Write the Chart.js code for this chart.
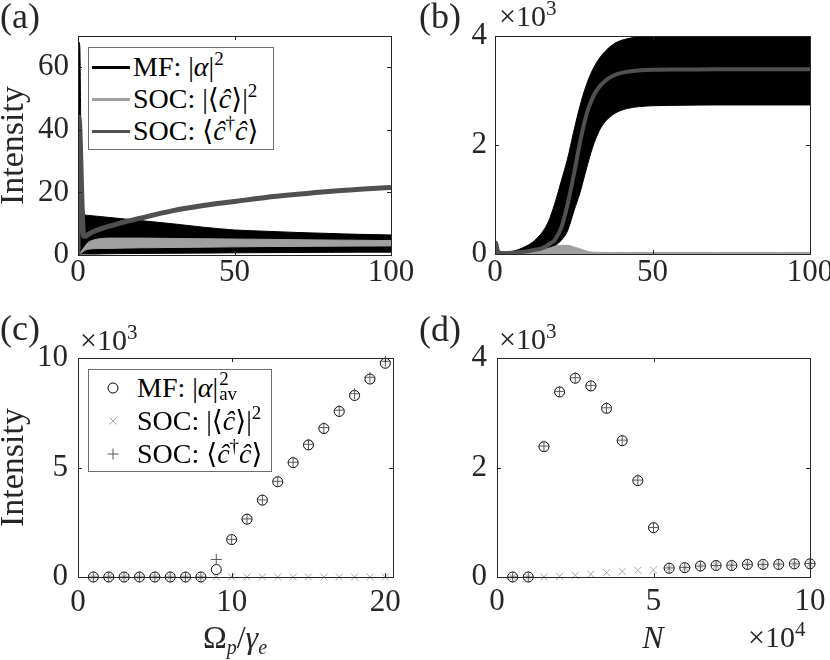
<!DOCTYPE html>
<html>
<head>
<meta charset="utf-8">
<script src="https://cdn.jsdelivr.net/npm/chart.js@4.4.1/dist/chart.umd.min.js"></script>
<style>
  html, body { margin: 0; padding: 0; background: #fff; }
  #fig { position: relative; width: 830px; height: 660px; overflow: hidden;
         font-family: 'Liberation Serif', 'DejaVu Serif', serif; color: #262626; }
  canvas { position: absolute; }
  .txt { position: absolute; line-height: 1; white-space: nowrap; }
  .sp { font-size: 21px; position: relative; top: -11px; }
  .sb { font-size: 20px; position: relative; top: 6px; }
  .leg { position: absolute; background: #fff; border: 1px solid #6e6e6e; box-sizing: border-box; }
  .row { position: absolute; left: 0; height: 32px; line-height: 32px; font-size: 28px; white-space: nowrap; color: #000; }
  .sw { position: absolute; height: 3px; width: 38px; left: 3px; top: 15px; }
  .mk { position: absolute; left: 17px; top: 9px; }
  .row .t { position: absolute; top: 0; }
  .row .sp { font-size: 19px; top: -11px; }
  .ss { display: inline-block; position: relative; width: 24px; height: 10px; }
  .ss .a { position: absolute; left: 1px; top: -18px; font-size: 19px; line-height: 1; }
  .ss .b { position: absolute; left: 1px; top: -3px; font-size: 19px; line-height: 1; }
</style>
</head>
<body>
<div id="fig">
  <canvas id="pa" width="415" height="330" style="left:0;top:0"></canvas>
  <canvas id="pb" width="415" height="330" style="left:415px;top:0"></canvas>
  <canvas id="pc" width="415" height="330" style="left:0;top:330px"></canvas>
  <canvas id="pd" width="415" height="330" style="left:415px;top:330px"></canvas>

  <div class="txt" style="left:0;top:-2px;font-size:36px">(a)</div>
  <div class="txt" style="left:419px;top:-2px;font-size:36px">(b)</div>
  <div class="txt" style="left:0;top:310px;font-size:36px">(c)</div>
  <div class="txt" style="left:419px;top:311px;font-size:36px">(d)</div>

  <div class="txt" style="left:499px;top:1px;font-size:30px">×10<span class="sp">3</span></div>
  <div class="txt" style="left:80px;top:325px;font-size:30px">×10<span class="sp">3</span></div>
  <div class="txt" style="left:499px;top:324px;font-size:30px">×10<span class="sp">3</span></div>
  <div class="txt" style="left:748px;top:622px;font-size:30px">×10<span class="sp">4</span></div>

  <div class="txt" style="left:235px;top:621px;font-size:32px;transform:translateX(-50%)">Ω<span class="sb"><i>p</i></span>/<i>γ</i><span class="sb"><i>e</i></span></div>
  <div class="txt" style="left:653px;top:621px;font-size:32px;transform:translateX(-50%)"><i>N</i></div>

  <div class="leg" style="left:88px;top:47px;width:186px;height:103px">
    <div class="row" style="top:3px"><span class="sw" style="background:#000"></span><span class="t" style="left:44px">MF: |<i>α</i>|<span class="sp">2</span></span></div>
    <div class="row" style="top:35px"><span class="sw" style="background:#a0a0a0"></span><span class="t" style="left:44px">SOC: |⟨<i>ĉ</i>⟩|<span class="sp">2</span></span></div>
    <div class="row" style="top:67px"><span class="sw" style="background:#505050"></span><span class="t" style="left:44px">SOC: ⟨<i>ĉ</i><span class="sp">†</span><i>ĉ</i>⟩</span></div>
  </div>

  <div class="leg" style="left:88px;top:369px;width:184px;height:103px">
    <div class="row" style="top:2px"><svg class="mk" width="14" height="14"><circle cx="7" cy="7" r="5" fill="none" stroke="#000" stroke-width="1"/></svg><span class="t" style="left:48px">MF: |<i>α</i>|<span class="ss"><span class="a">2</span><span class="b">av</span></span></span></div>
    <div class="row" style="top:35px"><svg class="mk" width="14" height="14"><path d="M3.5 3.5L10.5 10.5M10.5 3.5L3.5 10.5" stroke="#a6a6a6" stroke-width="1"/></svg><span class="t" style="left:48px">SOC: |⟨<i>ĉ</i>⟩|<span class="sp">2</span></span></div>
    <div class="row" style="top:68px"><svg class="mk" width="14" height="14"><path d="M7 1.5V12.5M1.5 7H12.5" stroke="#595959" stroke-width="1"/></svg><span class="t" style="left:48px">SOC: ⟨<i>ĉ</i><span class="sp">†</span><i>ĉ</i>⟩</span></div>
  </div>
</div>

<script>
// (a) time traces, small drive
const tA      = [0, 0.1, 0.3, 0.6, 0.9, 1.3, 1.8, 2.4, 3, 5, 7, 10, 15, 20, 30, 40, 50, 60, 70, 80, 90, 100]
const mfUpA   = [0, 60, 68, 66, 40, 22, 14, 12.8, 12.7, 12.5, 12.3, 12.0, 11.5, 11.0, 10.0, 8.9, 8.0, 7.6, 7.2, 6.9, 6.6, 6.4]
const mfLoA   = [0, 0, 0.3, 0.3, 0.3, 0.3, 0.3, 0.3, 0.3, 0.3, 0.35, 0.4, 0.45, 0.5, 0.55, 0.6, 0.7, 0.75, 0.8, 0.85, 0.9, 0.9]
const cohUpA  = [0, 0, 0.3, 0.6, 1, 1.5, 2.2, 3, 3.8, 4.8, 5.2, 5.4, 5.4, 5.4, 5.3, 5.2, 5.1, 5.0, 4.9, 4.8, 4.7, 4.6]
const cohLoA  = [0, 0, 0.2, 0.3, 0.5, 0.8, 1.2, 1.6, 1.8, 2.0, 2.1, 2.1, 2.2, 2.3, 2.4, 2.5, 2.6, 2.7, 2.75, 2.8, 2.85, 2.9]
const numA    = [0, 30, 44, 40, 30, 16, 6, 6.0, 6.4, 7.5, 8.3, 9.2, 10.6, 11.8, 14.1, 15.8, 17.1, 18.4, 19.4, 20.3, 21.0, 21.6]

// (b) time traces, strong drive
const tB      = [0, 0.3, 1, 3, 6, 9, 12, 15, 17, 19, 21, 23, 25, 27, 29, 31, 33, 35, 38, 42, 46, 50, 60, 70, 80, 90, 100]
const mfUpB   = [0, 230, 60, 35, 55, 120, 220, 400, 600, 930, 1330, 1740, 2250, 2720, 3100, 3380, 3580, 3720, 3865, 3950, 3985, 3995, 3995, 3995, 3995, 3995, 3995]
const mfLoB   = [0, 0, 5, 5, 8, 10, 25, 50, 73, 150, 250, 420, 780, 1130, 1560, 1960, 2250, 2430, 2580, 2670, 2705, 2720, 2730, 2735, 2735, 2735, 2735]
const cohB    = [0, 60, 10, 5, 10, 20, 40, 75, 105, 140, 160, 160, 130, 95, 55, 35, 30, 28, 28, 28, 28, 28, 28, 28, 28, 28, 28]
const numB    = [0, 210, 40, 15, 25, 40, 70, 110, 170, 260, 480, 900, 1450, 2050, 2550, 2870, 3060, 3180, 3285, 3345, 3370, 3380, 3385, 3390, 3390, 3390, 3390]

// (c) steady state vs drive
const omegaC  = [1, 2, 3, 4, 5, 6, 7, 8, 9, 10, 11, 12, 13, 14, 15, 16, 17, 18, 19, 20]
const mfC     = [0, 0, 0, 0, 0, 0, 0, 0, 340, 1710, 2640, 3510, 4350, 5220, 6030, 6780, 7560, 8290, 9040, 9760]
const cohC    = [0, 0, 0, 0, 0, 0, 0, 0, 0, 0, 0, 0, 0, 0, 0, 0, 0, 0, 0, 0]
const numC    = [0, 0, 0, 0, 0, 0, 0, 0, 800, 1720, 2650, 3520, 4370, 5240, 6060, 6820, 7620, 8370, 9120, 9850]

// (d) steady state vs N
const nD      = [5000, 10000, 15000, 20000, 25000, 30000, 35000, 40000, 45000, 50000, 55000, 60000, 65000, 70000, 75000, 80000, 85000, 90000, 95000, 100000]
const mfD     = [0, 0, 2380, 3380, 3630, 3490, 3080, 2490, 1760, 900, 160, 170, 200, 210, 210, 230, 230, 230, 240, 240]
const cohD    = [0, 0, 0, 12, 30, 50, 80, 100, 120, 130, 160, 170, 200, 210, 210, 230, 230, 230, 240, 240]
const numD    = [0, 0, 2390, 3390, 3640, 3500, 3090, 2500, 1770, 905, 165, 175, 200, 210, 215, 230, 230, 235, 240, 245]

const ticksTime = [0, 50, 100]
const ticksA    = [0, 20, 40, 60]
const ticksB    = [0, 2000, 4000]
const ticksCx   = [0, 10, 20]
const ticksCy   = [0, 5000, 10000]
const ticksDx   = [0, 50000, 100000]
const ticksDy   = [0, 2000, 4000]

const FONT = "'Liberation Serif', 'DejaVu Serif', serif"
const INK = '#262626'
const BLACK = '#000000', LIGHT = '#a0a0a0', DARK = '#505050'
const TICK = 4

const frame = {
  id: 'frame',
  afterDatasetsDraw(chart) {
    const { ctx, chartArea: a, scales: { x, y } } = chart
    ctx.save()
    ctx.strokeStyle = INK
    ctx.lineWidth = 1
    ctx.beginPath()
    x.ticks.forEach(t => {
      const p = Math.round(x.getPixelForValue(t.value)) + 0.5
      ctx.moveTo(p, a.bottom); ctx.lineTo(p, a.bottom - TICK)
      ctx.moveTo(p, a.top);    ctx.lineTo(p, a.top + TICK)
    })
    y.ticks.forEach(t => {
      const p = Math.round(y.getPixelForValue(t.value)) + 0.5
      ctx.moveTo(a.left, p);  ctx.lineTo(a.left + TICK, p)
      ctx.moveTo(a.right, p); ctx.lineTo(a.right - TICK, p)
    })
    ctx.stroke()
    ctx.strokeRect(Math.round(a.left) + 0.5, Math.round(a.top) + 0.5,
                   Math.round(a.right - a.left), Math.round(a.bottom - a.top))
    ctx.restore()
  },
}

function pts(xs, ys) { return xs.map((x, i) => ({ x, y: ys[i] })) }

function line(xs, ys, color, width, order, fill = false) {
  return { data: pts(xs, ys), borderColor: color, backgroundColor: color, borderWidth: width,
           pointRadius: 0, fill, order, cubicInterpolationMode: 'monotone' }
}

function band(xs, lo, hi, color, order) {
  return [line(xs, lo, color, 1, order), line(xs, hi, color, 1, order, '-1')]
}

function marks(xs, ys, style, color, radius, order) {
  return { data: pts(xs, ys), pointStyle: style, pointRadius: radius, borderColor: color,
           backgroundColor: 'transparent', pointBorderWidth: 1, order, clip: false }
}

function scale([min, max], ticks, label, pad, fix) {
  return {
    type: 'linear', min, max,
    grid: { display: false, drawTicks: false },
    border: { display: false },
    ticks: { padding: pad, color: INK, autoSkip: false, maxRotation: 0,
             font: { family: FONT, size: 31, lineHeight: 1 }, callback: v => label(v) },
    afterBuildTicks: s => { s.ticks = ticks.map(value => ({ value })) },
    afterFit: s => { fix(s); s.paddingLeft = s.paddingRight = s.paddingTop = s.paddingBottom = 0 },
  }
}

function panel(id, c) {
  const y = scale(c.yr, c.yTicks, c.yLab, c.yPad, s => { s.width = c.yW })
  y.title = c.yTitle
    ? { display: true, text: c.yTitle, color: INK, padding: 0, font: { family: FONT, size: 34, lineHeight: 0.8 } }
    : { display: false }
  new Chart(document.getElementById(id), {
    type: c.type,
    data: { datasets: c.datasets },
    plugins: [frame],
    options: {
      responsive: false, animation: false, events: [],
      layout: { padding: { top: c.top, right: c.right, left: 0, bottom: 0 } },
      plugins: { legend: { display: false }, tooltip: { enabled: false } },
      scales: {
        x: scale(c.xr, c.xTicks, c.xLab, c.xPad, s => { s.height = c.xH }),
        y,
      },
    },
  })
}

const plain = v => v
const kilo = v => v / 1000
const tenK = v => v / 10000

panel('pa', {
  type: 'line',
  datasets: [...band(tA, mfLoA, mfUpA, BLACK, 3), ...band(tA, cohLoA, cohUpA, LIGHT, 2), line(tA, numA, DARK, 5, 1)],
  xr: [0, 100], yr: [0, 70], xTicks: ticksTime, yTicks: ticksA, xLab: plain, yLab: plain,
  yW: 78, xH: 75, top: 36, right: 24, xPad: 2.5, yPad: 9, yTitle: 'Intensity',
})

panel('pb', {
  type: 'line',
  datasets: [...band(tB, mfLoB, mfUpB, BLACK, 3), line(tB, cohB, LIGHT, 1, 2, 'origin'), line(tB, numB, DARK, 4, 1)],
  xr: [0, 100], yr: [0, 4000], xTicks: ticksTime, yTicks: ticksB, xLab: plain, yLab: kilo,
  yW: 80, xH: 76, top: 36, right: 20, xPad: 3.5, yPad: 8,
})

panel('pc', {
  type: 'scatter',
  datasets: [marks(omegaC, mfC, 'circle', BLACK, 5, 3), marks(omegaC, cohC, 'crossRot', '#a6a6a6', 5, 2),
             marks(omegaC, numC, 'cross', '#595959', 5.5, 1)],
  xr: [0, 20.5], yr: [0, 10000], xTicks: ticksCx, yTicks: ticksCy, xLab: plain, yLab: kilo,
  yW: 78, xH: 83, top: 28, right: 22, xPad: 10.5, yPad: 10, yTitle: 'Intensity',
})

panel('pd', {
  type: 'scatter',
  datasets: [marks(nD, mfD, 'circle', BLACK, 5, 3), marks(nD, cohD, 'crossRot', '#a6a6a6', 5, 2),
             marks(nD, numD, 'cross', '#595959', 5.5, 1)],
  xr: [0, 100000], yr: [0, 4000], xTicks: ticksDx, yTicks: ticksDy, xLab: tenK, yLab: kilo,
  yW: 82, xH: 83, top: 28, right: 20, xPad: 9.5, yPad: 10,
})
</script>
</body>
</html>
